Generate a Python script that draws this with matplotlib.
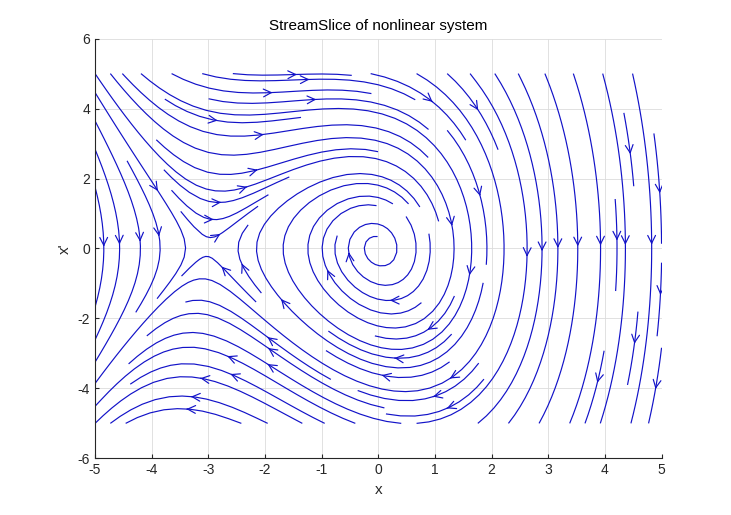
import numpy as np
import matplotlib.pyplot as plt

plt.rcParams['font.family'] = ['Liberation Sans', 'DejaVu Sans']
plt.rcParams['axes.unicode_minus'] = False

# slice grid and the system x' = y, y' = -a*x - b*x^2 - c*y
xs = np.linspace(-5, 5, 121)
ys = np.linspace(-5, 5, 121)
a_lin = 3.0
b_quad = 1.0
c_damp = 0.4

X, Y = np.meshgrid(xs, ys)
U = Y
V = -a_lin * X - b_quad * X**2 - c_damp * Y
spd = np.sqrt(U**2 + V**2)
spd[spd == 0] = 1
U = U / spd
V = V / spd

fig = plt.figure(figsize=(7.31, 5.15), dpi=100)
ax = fig.add_axes([0.13, 0.11, 0.775, 0.815])
ax.streamplot(X, Y, U, V, density=1.28, color='#1212c8', linewidth=0.85,
              arrowsize=1.4, arrowstyle='->', minlength=0.2)
ax.set_xlim(-5, 5)
ax.set_ylim(-6, 6)
ax.set_xticks(np.arange(-5, 6, 1))
ax.set_yticks(np.arange(-6, 7, 2))
ax.grid(True, color='#dcdcdc', linewidth=0.6)
ax.set_axisbelow(True)
ax.tick_params(direction='in', labelsize=10, length=3, colors='#262626')
for s in ['top', 'right']:
    ax.spines[s].set_visible(False)
for s in ['left', 'bottom']:
    ax.spines[s].set_color('#262626')
ax.set_title('StreamSlice of nonlinear system', fontsize=11)
ax.set_xlabel('x', fontsize=11, color='#262626')
ax.set_ylabel("x'", fontsize=11, color='#262626')
fig.savefig('out.png')
